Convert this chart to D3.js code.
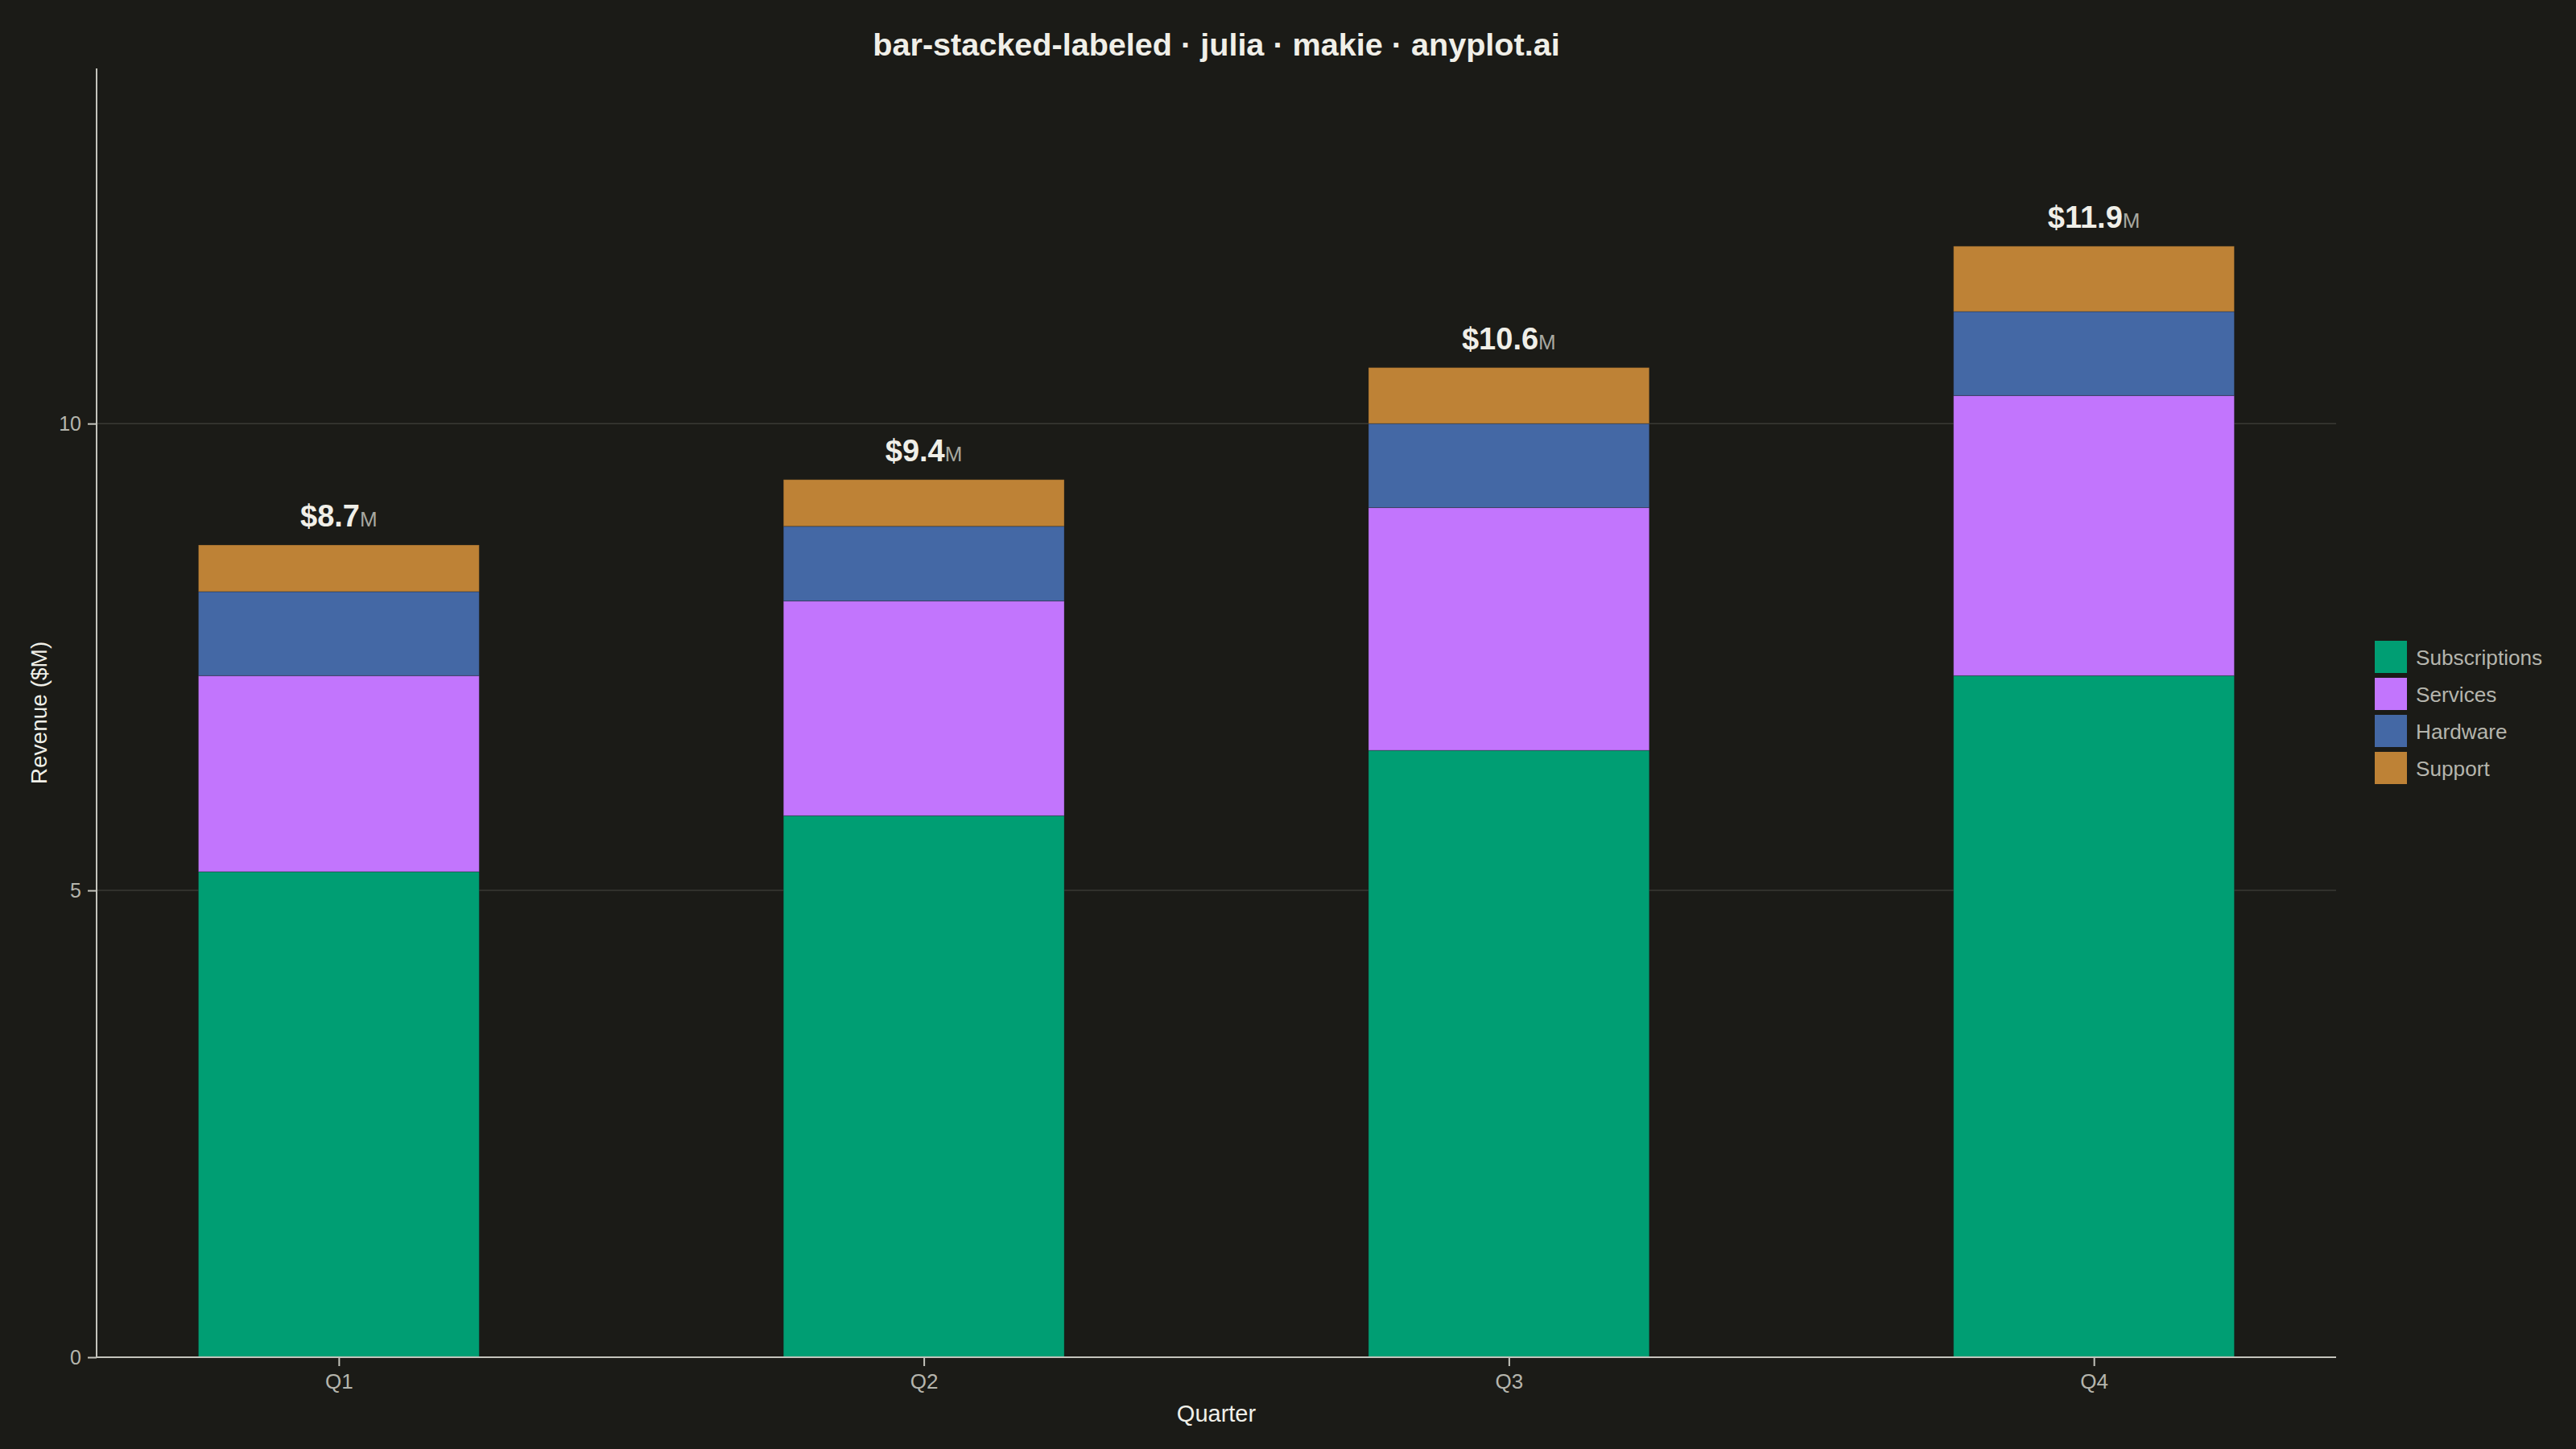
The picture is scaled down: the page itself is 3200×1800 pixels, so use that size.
<!DOCTYPE html>
<html>
<head>
<meta charset="utf-8">
<script src="https://cdn.jsdelivr.net/npm/d3@7"></script>
<style>
  html, body { margin: 0; padding: 0; background: #1b1b17; }
  svg { display: block; font-family: "Liberation Sans", Arial, sans-serif; }
</style>
</head>
<body>
<div id="chart"></div>
<script>
const quarters = ['Q1', 'Q2', 'Q3', 'Q4'];
const segments = ['Subscriptions', 'Services', 'Hardware', 'Support'];
const subscriptions = [5.2, 5.8, 6.5, 7.3];
const services = [2.1, 2.3, 2.6, 3.0];
const hardware = [0.9, 0.8, 0.9, 0.9];
const support = [0.5, 0.5, 0.6, 0.7];
const colors = ['#009e73', '#c275fd', '#4468a5', '#be8236'];
const yTicks = [0, 5, 10];

const W = 3200;
const H = 1800;
const plot = { left: 120, right: 2902, top: 85, bottom: 1686 };

const bg = '#1b1b17';
const ink = '#f0efe8';
const soft = '#b5b5ad';
const spine = '#c4c4bc';

const rows = quarters.map((q, i) => ({
  quarter: q,
  Subscriptions: subscriptions[i],
  Services: services[i],
  Hardware: hardware[i],
  Support: support[i],
}));
const totals = rows.map((r) => segments.reduce((s, k) => s + r[k], 0));

const stack = d3.stack().keys(segments)(rows);

const x = d3.scaleLinear()
  .domain([0.586, quarters.length + 0.414])
  .range([plot.left, plot.right]);
const barWidth = 0.48;

const y = d3.scaleLinear()
  .domain([0, d3.max(totals) * 1.16])
  .range([plot.bottom, plot.top]);

const svg = d3.select('#chart')
  .append('svg')
  .attr('width', W)
  .attr('height', H);

svg.append('rect')
  .attr('width', W)
  .attr('height', H)
  .attr('fill', bg);

// grid
svg.append('g')
  .selectAll('line')
  .data(yTicks.filter((t) => t > 0))
  .join('line')
  .attr('x1', plot.left)
  .attr('x2', plot.right)
  .attr('y1', (d) => y(d))
  .attr('y2', (d) => y(d))
  .attr('stroke', '#3a3a35')
  .attr('stroke-width', 1.5);

// bars
svg.append('g')
  .selectAll('g')
  .data(stack)
  .join('g')
  .attr('fill', (d, i) => colors[i])
  .selectAll('rect')
  .data((d) => d)
  .join('rect')
  .attr('x', (d, i) => x(i + 1 - barWidth / 2))
  .attr('width', (d, i) => x(i + 1 + barWidth / 2) - x(i + 1 - barWidth / 2))
  .attr('y', (d) => y(d[1]))
  .attr('height', (d) => y(d[0]) - y(d[1]))
  .attr('stroke', bg)
  .attr('stroke-opacity', 0.3)
  .attr('stroke-width', 1);

// total labels
const labels = svg.append('g')
  .selectAll('text')
  .data(totals)
  .join('text')
  .attr('x', (d, i) => x(i + 1))
  .attr('y', (d) => y(d) - 23)
  .attr('text-anchor', 'middle');

labels.append('tspan')
  .attr('font-size', 38)
  .attr('font-weight', 'bold')
  .attr('fill', ink)
  .text((d) => `$${d.toFixed(1)}`);

labels.append('tspan')
  .attr('font-size', 26)
  .attr('fill', '#a8a8a0')
  .text('M');

// y axis
const yAxis = svg.append('g')
  .attr('transform', `translate(${plot.left},0)`)
  .call(d3.axisLeft(y).tickValues(yTicks).tickSize(11).tickPadding(8).tickFormat(d3.format('d')));
yAxis.select('.domain').remove();
yAxis.selectAll('line').attr('stroke', spine).attr('stroke-width', 2);
yAxis.selectAll('text')
  .attr('fill', soft)
  .attr('font-size', 25)
  .attr('font-family', '"Liberation Sans", Arial, sans-serif');

// x axis
const xAxis = svg.append('g')
  .attr('transform', `translate(0,${plot.bottom})`)
  .call(d3.axisBottom(x)
    .tickValues(quarters.map((q, i) => i + 1))
    .tickFormat((d) => quarters[d - 1])
    .tickSize(11)
    .tickPadding(10));
xAxis.select('.domain').remove();
xAxis.selectAll('line').attr('stroke', spine).attr('stroke-width', 2);
xAxis.selectAll('text')
  .attr('fill', soft)
  .attr('font-size', 26)
  .attr('font-family', '"Liberation Sans", Arial, sans-serif');

// spines
svg.append('line')
  .attr('x1', plot.left)
  .attr('x2', plot.left)
  .attr('y1', plot.top)
  .attr('y2', plot.bottom)
  .attr('stroke', spine)
  .attr('stroke-width', 2);
svg.append('line')
  .attr('x1', plot.left - 1)
  .attr('x2', plot.right)
  .attr('y1', plot.bottom)
  .attr('y2', plot.bottom)
  .attr('stroke', spine)
  .attr('stroke-width', 2);

// axis titles
svg.append('text')
  .attr('x', (plot.left + plot.right) / 2)
  .attr('y', 1766)
  .attr('text-anchor', 'middle')
  .attr('font-size', 29)
  .attr('fill', ink)
  .text('Quarter');

svg.append('text')
  .attr('transform', `translate(58,${(plot.top + plot.bottom) / 2}) rotate(-90)`)
  .attr('text-anchor', 'middle')
  .attr('font-size', 28)
  .attr('fill', ink)
  .text('Revenue ($M)');

// title
svg.append('text')
  .attr('x', (plot.left + plot.right) / 2)
  .attr('y', 69)
  .attr('text-anchor', 'middle')
  .attr('font-size', 39.6)
  .attr('font-weight', 'bold')
  .attr('fill', ink)
  .text('bar-stacked-labeled · julia · makie · anyplot.ai');

// legend
const legend = svg.append('g')
  .attr('transform', 'translate(2950,796)');
const item = legend.selectAll('g')
  .data(segments)
  .join('g')
  .attr('transform', (d, i) => `translate(0,${i * 46})`);
item.append('rect')
  .attr('width', 40)
  .attr('height', 40)
  .attr('fill', (d, i) => colors[i]);
item.append('text')
  .attr('x', 51)
  .attr('y', 30)
  .attr('font-size', 26.2)
  .attr('fill', soft)
  .text((d) => d);
</script>
</body>
</html>
